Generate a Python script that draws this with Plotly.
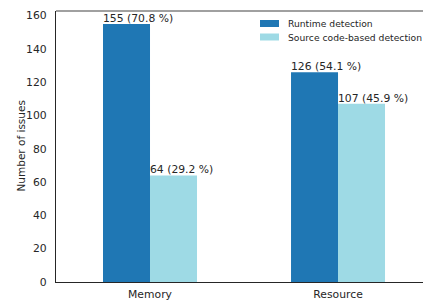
import plotly.graph_objects as go

categories = ["Memory", "Resource"]
runtime = [155, 126]
source = [64, 107]
series_names = ["Runtime detection", "Source code-based detection"]
colors = ["#1f77b4", "#9edae5"]
yticks = [0, 20, 40, 60, 80, 100, 120, 140, 160]

xpos = list(range(len(categories)))
totals = [a + b for a, b in zip(runtime, source)]

L, T, B, W, H = 56, 11, 20, 423, 302
pw, ph = W - L, H - T - B

def px_x(p):
    return (p - L) / pw

def px_y(p):
    return (H - B - p) / ph

fig = go.Figure()
for vals, name, col, off in [(runtime, series_names[0], colors[0], -0.25),
                             (source, series_names[1], colors[1], 0.0)]:
    fig.add_trace(go.Bar(x=xpos, y=vals, name=name, marker=dict(color=col, line=dict(width=0)),
                         width=0.25, offset=off, showlegend=False, hoverinfo="skip"))
    for x, v, t in zip(xpos, vals, totals):
        fig.add_annotation(x=x + off, y=v, text=f"{v} ({100*v/t:.1f} %)", showarrow=False,
                           xanchor="left", yanchor="bottom", xshift=-2, yshift=-3,
                           font=dict(size=10.8, color="#262626"))

# manual legend (matplotlib-style wide swatches)
for i, (name, col) in enumerate(zip(series_names, colors)):
    ytop, ybot = 20 + 13.5 * i, 27 + 13.5 * i
    fig.add_shape(type="rect", xref="paper", yref="paper", x0=px_x(260), x1=px_x(279),
                  y0=px_y(ybot), y1=px_y(ytop), fillcolor=col, line=dict(width=0))
    fig.add_annotation(xref="paper", yref="paper", x=px_x(286), y=px_y((ytop + ybot) / 2),
                       text=name, showarrow=False, xanchor="left", yanchor="middle",
                       font=dict(size=9.2, color="#262626"))

# y-axis title
fig.add_annotation(xref="paper", yref="paper", x=px_x(20), y=0.5, text="Number of issues",
                   textangle=-90, showarrow=False, xanchor="center", yanchor="middle",
                   font=dict(size=10.5, color="#262626"))

fig.add_shape(type="line", xref="paper", yref="paper", x0=0, x1=1, y0=1, y1=1,
              line=dict(color="#808080", width=1.5))

fig.update_layout(
    width=W, height=H,
    margin=dict(l=L, r=0, t=T, b=B, autoexpand=False),
    plot_bgcolor="white", paper_bgcolor="white",
    font=dict(family="DejaVu Sans", size=10.5, color="#262626"),
    showlegend=False,
    barmode="overlay",
)
fig.update_xaxes(range=[-0.5, 1.452], tickvals=xpos, ticktext=categories, showgrid=False,
                 showline=True, linecolor="#262626", linewidth=1.25, ticks="", zeroline=False,
                 ticklabelstandoff=2, automargin=False, tickfont=dict(size=10.8))
fig.update_yaxes(range=[0, 162.75], tickvals=yticks, showgrid=False, showline=True,
                 linecolor="#262626", linewidth=1.25, ticks="", zeroline=False,
                 ticklabelstandoff=6, automargin=False, tickfont=dict(size=10.8))

fig.write_html("out.html", config={"displayModeBar": False},
               post_script="document.body.style.margin='0';document.body.style.overflow='hidden';")
